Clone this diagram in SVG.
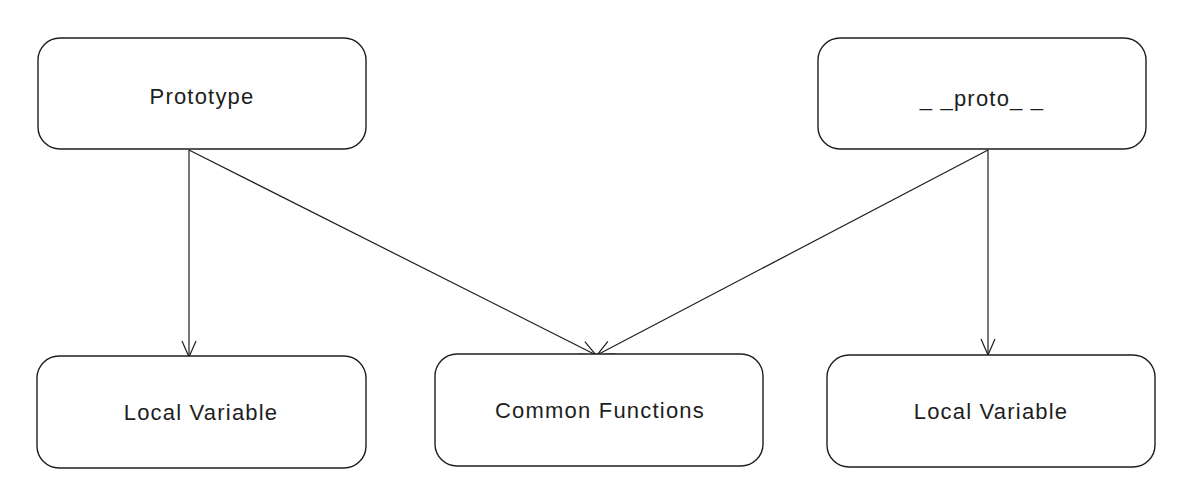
<svg xmlns="http://www.w3.org/2000/svg" width="1190" height="492" viewBox="0 0 1190 492">
<style>
.box{fill:#ffffff;stroke:#1e1e1e;stroke-width:1.4}
.lbl{font-family:"Liberation Sans",Arial,sans-serif;font-size:22px;letter-spacing:1.2px;fill:#1e1e1e;text-anchor:middle;dominant-baseline:central}
.edge{fill:none;stroke:#1e1e1e;stroke-width:1.2}
</style>
<defs>
<marker id="arr" viewBox="0 0 20 20" refX="18" refY="10" markerWidth="20" markerHeight="20" markerUnits="userSpaceOnUse" orient="auto">
<path d="M2,3 L18,10 L2,17" fill="none" stroke="#1e1e1e" stroke-width="1.2"/>
</marker>
</defs>
<rect width="1190" height="492" fill="#ffffff"/>
<g id="connectors">
<path class="edge" d="M189,150 L189,357" marker-end="url(#arr)"/>
<path class="edge" d="M189,150 L596,355" marker-end="url(#arr)"/>
<path class="edge" d="M988,150 L597,355" marker-end="url(#arr)"/>
<path class="edge" d="M988,150 L988,355" marker-end="url(#arr)"/>
</g>
<g id="node-prototype">
<rect class="box" x="38" y="38" width="328" height="111" rx="22"/>
<text class="lbl" x="202" y="96">Prototype</text>
</g>
<g id="node-proto">
<rect class="box" x="818" y="38" width="328" height="111" rx="22"/>
<text class="lbl" x="982" y="98">_ _proto_ _</text>
</g>
<g id="node-local-left">
<rect class="box" x="37" y="356" width="329" height="112" rx="22"/>
<text class="lbl" x="201" y="412">Local Variable</text>
</g>
<g id="node-common">
<rect class="box" x="435" y="354" width="328" height="112" rx="22"/>
<text class="lbl" x="600" y="410">Common Functions</text>
</g>
<g id="node-local-right">
<rect class="box" x="827" y="355" width="328" height="112" rx="22"/>
<text class="lbl" x="991" y="411">Local Variable</text>
</g>
</svg>
